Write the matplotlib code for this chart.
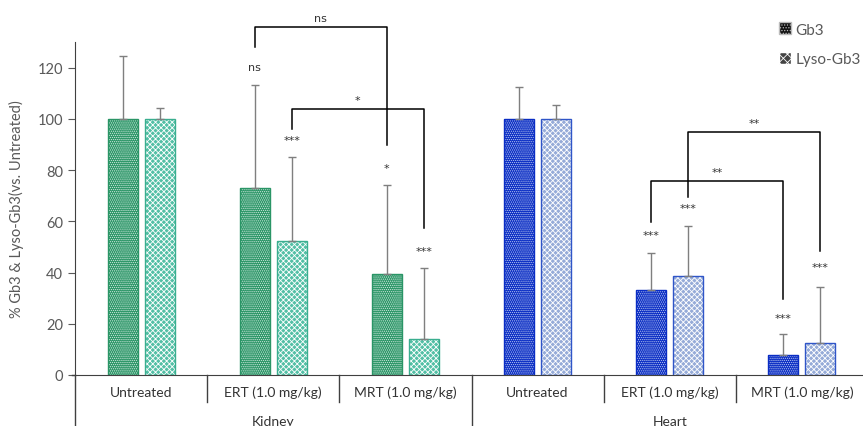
import matplotlib.pyplot as plt
from matplotlib.patches import Patch
import matplotlib.transforms as mtransforms
import numpy as np

plt.rcParams['font.family'] = ['Lato', 'DejaVu Sans']
plt.rcParams['hatch.linewidth'] = 0.6

# data
treatments = ['Untreated', 'ERT (1.0 mg/kg)', 'MRT (1.0 mg/kg)',
              'Untreated', 'ERT (1.0 mg/kg)', 'MRT (1.0 mg/kg)']
organs = ['Kidney', 'Heart']
gb3 = [100, 73, 39.6, 100, 33.1, 8.0]
gb3_err = [24.7, 40.4, 34.6, 12.4, 14.7, 7.9]
lyso = [100, 52.2, 14, 100, 38.8, 12.4]
lyso_err = [4.2, 33.0, 27.7, 5.5, 19.3, 22.0]
gb3_sig = ['', 'ns', '*', '', '***', '***']
gb3_sig_y = [0, 120.4, 80.8, 0, 54.8, 22.4]
lyso_sig = ['', '***', '***', '', '***', '***']
lyso_sig_y = [0, 91.7, 48.3, 0, 65.1, 42.2]

# brackets: (group a, series a, group b, series b, top, left foot, right foot, label)
brackets = [
    (1, 'gb3', 2, 'gb3', 135.9, 128.2, 89.7, 'ns'),
    (1, 'lyso', 2, 'lyso', 104.0, 96.2, 57.5, '*'),
    (4, 'gb3', 5, 'gb3', 75.7, 59.9, 29.5, '**'),
    (4, 'lyso', 5, 'lyso', 94.9, 69.6, 48.3, '**'),
]

green = '#2a9566'
teal = '#52bfa5'
blue = '#0a2dc4'
lightblue = '#95abd8'
gray_txt = '#595959'

fig = plt.figure(figsize=(8.63, 4.27), dpi=100)
ax = fig.add_axes([75 / 863, 51 / 427, 793 / 863, 333 / 427])

x = np.arange(len(treatments))
off = 0.14
w = 0.227

for i in range(len(treatments)):
    if i < 3:
        c1, c2, e2 = green, teal, '#3aae8f'
    else:
        c1, c2, e2 = blue, lightblue, '#2f55c8'
    ax.bar(x[i] - off, gb3[i], w, color=c1, edgecolor='#d0eadf' if i < 3 else '#b8c6f0',
           hatch='........', linewidth=0)
    ax.bar(x[i] - off, gb3[i], w, fill=False, edgecolor=c1, linewidth=1)
    ax.bar(x[i] + off, lyso[i], w, color=c2, edgecolor='white', hatch='xxxxxx', linewidth=0)
    ax.bar(x[i] + off, lyso[i], w, fill=False, edgecolor=e2, linewidth=1)
    ax.errorbar(x[i] - off, gb3[i], yerr=[[0], [gb3_err[i]]], fmt='none',
                ecolor='#7f7f7f', elinewidth=1, capsize=3, capthick=1)
    ax.errorbar(x[i] + off, lyso[i], yerr=[[0], [lyso_err[i]]], fmt='none',
                ecolor='#7f7f7f', elinewidth=1, capsize=3, capthick=1)
    if gb3_sig[i]:
        ax.text(x[i] - off, gb3_sig_y[i], gb3_sig[i], ha='center', va='center',
                fontsize=8, family='DejaVu Sans', color='#333333')
    if lyso_sig[i]:
        ax.text(x[i] + off, lyso_sig_y[i], lyso_sig[i], ha='center', va='center',
                fontsize=8, family='DejaVu Sans', color='#333333')

for ga, sa, gbb, sb, top, yl, yr, lab in brackets:
    xa = x[ga] - off if sa == 'gb3' else x[ga] + off
    xb = x[gbb] - off if sb == 'gb3' else x[gbb] + off
    ax.plot([xa, xa, xb, xb], [yl, top, top, yr], color='black', lw=1.1, clip_on=False)
    ax.text((xa + xb) / 2, top + 3.5, lab, ha='center', va='center',
            fontsize=8, family='DejaVu Sans', color='#333333')

ax.set_xlim(-0.5, 5.5)
ax.set_ylim(0, 130)
ax.set_yticks(range(0, 121, 20))
ax.tick_params(axis='y', labelsize=10.5, labelcolor=gray_txt, color='#595959', length=5)
ax.set_xticks([])
ax.spines['top'].set_visible(False)
ax.spines['right'].set_visible(False)
ax.spines['left'].set_color('#404040')
ax.spines['bottom'].set_color('#404040')
ax.set_ylabel('% Gb3 & Lyso-Gb3(vs. Untreated)', fontsize=10.5, color=gray_txt, labelpad=10)

# category axis below the plot
trans = mtransforms.blended_transform_factory(ax.transData, ax.transAxes)
for i in range(1, len(treatments)):
    bottom = -0.16 if i == 3 else -0.081
    ax.plot([i - 0.5, i - 0.5], [0, bottom], color='#404040', lw=1,
            transform=trans, clip_on=False)
ax.plot([-0.5, -0.5], [0, -0.16], color='#404040', lw=1, transform=trans, clip_on=False)
ax.plot([-0.52, -0.5], [0, 0], color='#404040', lw=1, transform=trans, clip_on=False)
for i, t in enumerate(treatments):
    ax.text(x[i], -0.051, t, transform=trans, ha='center', va='center',
            fontsize=10, color='#333333')
for j, o in enumerate(organs):
    ax.text(1 + 3 * j, -0.138, o, transform=trans, ha='center', va='center',
            fontsize=10, color='#333333')

handles = [Patch(facecolor='#111111', edgecolor='#bbbbbb', hatch='......', label='Gb3'),
           Patch(facecolor='#444444', edgecolor='white', hatch='xxxx', label='Lyso-Gb3')]
leg = ax.legend(handles=handles, loc='upper left', bbox_to_anchor=(0.87, 1.1),
                frameon=False, fontsize=11, handlelength=0.8, handleheight=0.8,
                handletextpad=0.3, labelspacing=1.0)
for t in leg.get_texts():
    t.set_color(gray_txt)

fig.savefig('out.png', dpi=100)
